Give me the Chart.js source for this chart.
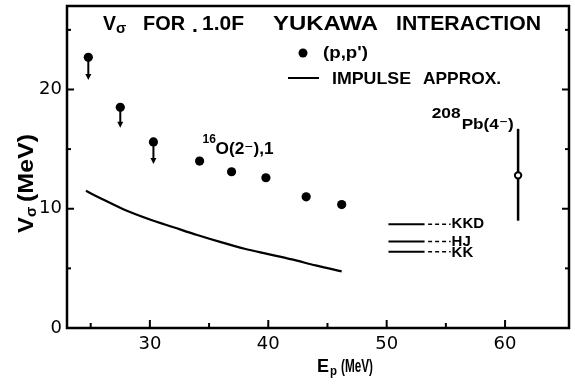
<!DOCTYPE html>
<html>
<head>
<meta charset="utf-8">
<script src="https://cdn.jsdelivr.net/npm/chart.js@4/dist/chart.umd.min.js"></script>
<style>
  html, body { margin: 0; padding: 0; background: #fff; }
  #wrap { width: 575px; height: 385px; }
</style>
</head>
<body>
<div id="wrap"><canvas id="c" width="575" height="385"></canvas></div>
<script>
// (p,p') values of V_sigma for 16O(2-), T=1, against proton energy
const ppEnergy = [24.8, 27.5, 30.3, 34.2, 36.9, 39.8, 43.2, 46.2];
const ppV      = [22.7, 18.5, 15.6, 14.0, 13.1, 12.6, 11.0, 10.35];
// the first three points are upper limits; arrows run down to these values
const limitIndex = [0, 1, 2];
const limitTo    = [20.8, 16.8, 13.75];

// impulse approximation curve
const impulseE = [24.6, 26, 28, 30, 32, 34, 36, 38, 40, 42, 44, 46.2];
const impulseV = [11.5, 10.8, 9.85, 9.1, 8.45, 7.8, 7.2, 6.65, 6.2, 5.75, 5.25, 4.75];

// 208Pb(4-) point with its range
const pbE = [61.1];
const pbV = [12.8];
const pbLow = [9.0];
const pbHigh = [16.7];

// values from the effective interactions KKD, HJ, KK
const keyNames  = ['KKD', 'HJ', 'KK'];
const keyV      = [8.7, 7.25, 6.4];
const keySolidE = [50.15, 53.2];
const keyDashE  = [53.5, 55.4];

// axis ticks
const xMajor = [30, 40, 50, 60];
const xMinor = [25, 35, 45, 55];
const yMajor = [0, 10, 20];
const yMinor = [5, 15, 25];

const FONT = '"Liberation Sans", "DejaVu Sans", sans-serif';
const TICKFONT = '"DejaVu Sans", sans-serif';

function text(ctx, s, x, y, size, opts) {
  opts = opts || {};
  ctx.save();
  ctx.font = (opts.bold ? 'bold ' : '') + size + 'px ' + (opts.family || FONT);
  ctx.textBaseline = 'middle';
  ctx.textAlign = 'left';
  ctx.fillStyle = '#000';
  const w = ctx.measureText(s).width;
  const sx = opts.width ? opts.width / w : 1;
  ctx.translate(x, y);
  ctx.scale(sx, 1);
  ctx.fillText(s, 0, 0);
  ctx.restore();
  return w * sx;
}

const keyDatasets = [];
keyNames.forEach((name, i) => {
  keyDatasets.push({
    label: name,
    data: keySolidE.map(e => ({ x: e, y: keyV[i] })),
    showLine: true, pointRadius: 0, borderColor: '#000', borderWidth: 2
  });
  keyDatasets.push({
    label: name + ' link',
    data: keyDashE.map(e => ({ x: e, y: keyV[i] })),
    showLine: true, pointRadius: 0, borderColor: '#000', borderWidth: 1.5,
    borderDash: [4, 3]
  });
});

const inkPlugin = {
  id: 'ink',
  beforeDatasetsDraw(chart) {
    const { ctx, scales: { x, y } } = chart;
    ctx.save();
    ctx.strokeStyle = '#000';
    ctx.fillStyle = '#000';
    // upper-limit arrows
    limitIndex.forEach((i, k) => {
      const px = x.getPixelForValue(ppEnergy[i]);
      const y0 = y.getPixelForValue(ppV[i]);
      const y1 = y.getPixelForValue(limitTo[k]);
      ctx.lineWidth = 2;
      ctx.beginPath(); ctx.moveTo(px, y0); ctx.lineTo(px, y1 - 5); ctx.stroke();
      ctx.beginPath();
      ctx.moveTo(px - 3, y1 - 6); ctx.lineTo(px + 3, y1 - 6); ctx.lineTo(px, y1);
      ctx.closePath(); ctx.fill();
    });
    // 208Pb range bar
    pbE.forEach((e, i) => {
      const px = x.getPixelForValue(e);
      ctx.lineWidth = 2.5;
      ctx.beginPath();
      ctx.moveTo(px, y.getPixelForValue(pbHigh[i]));
      ctx.lineTo(px, y.getPixelForValue(pbLow[i]));
      ctx.stroke();
    });
    ctx.restore();
  },
  afterDatasetsDraw(chart) {
    const { ctx, chartArea: a, scales: { x, y } } = chart;
    ctx.save();
    ctx.strokeStyle = '#000';
    ctx.fillStyle = '#000';
    // frame
    ctx.lineWidth = 2.5;
    ctx.strokeRect(a.left, a.top, a.right - a.left, a.bottom - a.top);
    // inward tick marks
    ctx.lineWidth = 2;
    const tickX = (v, len) => {
      const px = x.getPixelForValue(v);
      ctx.beginPath(); ctx.moveTo(px, a.bottom); ctx.lineTo(px, a.bottom - len); ctx.stroke();
    };
    const tickY = (v, len) => {
      const py = y.getPixelForValue(v);
      ctx.beginPath(); ctx.moveTo(a.left, py); ctx.lineTo(a.left + len, py); ctx.stroke();
      ctx.beginPath(); ctx.moveTo(a.right, py); ctx.lineTo(a.right - len, py); ctx.stroke();
    };
    xMajor.forEach(v => tickX(v, 8));
    xMinor.forEach(v => tickX(v, 5));
    yMajor.forEach(v => tickY(v, 7));
    yMinor.forEach(v => tickY(v, 4));

    // title
    const ty = a.top + 18;
    text(ctx, 'V', a.left + 36, ty, 21, { bold: true, width: 13 });
    text(ctx, 'σ', a.left + 49, ty + 5, 15, { bold: true });
    text(ctx, 'FOR', a.left + 76, ty, 21, { bold: true, width: 42 });
    text(ctx, '.', a.left + 125, ty + 2, 21, { bold: true });
    text(ctx, '1.0F', a.left + 135, ty, 21, { bold: true, width: 42 });
    text(ctx, 'YUKAWA', a.left + 206, ty, 21, { bold: true, width: 105 });
    text(ctx, 'INTERACTION', a.left + 329, ty, 21, { bold: true, width: 145 });

    // legend
    ctx.beginPath(); ctx.arc(a.left + 236, a.top + 47, 4.5, 0, Math.PI * 2); ctx.fill();
    text(ctx, "(p,p')", a.left + 256, a.top + 47, 17, { bold: true, width: 45 });
    ctx.lineWidth = 2;
    ctx.beginPath(); ctx.moveTo(a.left + 221, a.top + 72); ctx.lineTo(a.left + 252, a.top + 72); ctx.stroke();
    text(ctx, 'IMPULSE', a.left + 265, a.top + 73, 17, { bold: true, width: 79 });
    text(ctx, 'APPROX.', a.left + 356, a.top + 73, 17, { bold: true, width: 78 });

    // 16O(2-),1 label
    const ox = x.getPixelForValue(34.45), oy = y.getPixelForValue(15.0);
    text(ctx, '16', ox, oy - 9, 12, { bold: true });
    text(ctx, 'O(2⁻),1', ox + 13, oy, 16, { bold: true, width: 58 });

    // 208Pb(4-) label
    const bx = x.getPixelForValue(53.8), by = y.getPixelForValue(17.05);
    text(ctx, '208', bx, by - 11, 14, { bold: true, width: 29 });
    text(ctx, 'Pb(4⁻)', bx + 30, by, 15, { bold: true, width: 52 });

    // key names
    keyNames.forEach((n, i) => {
      const kx = x.getPixelForValue(keyDashE[1]) + 1;
      text(ctx, n, kx, y.getPixelForValue(keyV[i]) + (i === 2 ? 1.5 : 0), 15, { bold: true });
    });

    // axis titles
    const xt = a.left + 250, yt = a.bottom + 39;
    text(ctx, 'E', xt, yt, 19, { bold: true, width: 12 });
    text(ctx, 'p', xt + 13, yt + 5, 12, { bold: true, width: 7 });
    text(ctx, '(MeV)', xt + 24, yt, 19, { bold: true, width: 32 });

    ctx.save();
    ctx.translate(27, a.top + 227);
    ctx.rotate(-Math.PI / 2);
    let w2 = text(ctx, 'V', 0, 0, 22, { bold: true, width: 16 });
    text(ctx, 'σ', w2, 5, 15, { bold: true });
    text(ctx, '(MeV)', w2 + 15, 0, 22, { bold: true, width: 68 });
    ctx.restore();

    ctx.restore();
  }
};

new Chart(document.getElementById('c'), {
  type: 'scatter',
  data: {
    datasets: [
      {
        label: "(p,p')",
        data: ppEnergy.map((e, i) => ({ x: e, y: ppV[i] })),
        pointRadius: 4.6, pointBackgroundColor: '#000', pointBorderColor: '#000',
        pointBorderWidth: 0, showLine: false
      },
      {
        label: '208Pb(4-)',
        data: pbE.map((e, i) => ({ x: e, y: pbV[i] })),
        pointRadius: 3.2, pointBackgroundColor: '#fff', pointBorderColor: '#000',
        pointBorderWidth: 2, showLine: false
      },
      {
        label: 'IMPULSE APPROX.',
        data: impulseE.map((e, i) => ({ x: e, y: impulseV[i] })),
        showLine: true, pointRadius: 0, borderColor: '#000', borderWidth: 2.2,
        tension: 0.4, cubicInterpolationMode: 'monotone'
      },
      ...keyDatasets
    ]
  },
  options: {
    responsive: false,
    animation: false,
    devicePixelRatio: 1,
    layout: { padding: { top: 6, right: 3, left: 0, bottom: 0 } },
    plugins: { legend: { display: false }, tooltip: { enabled: false }, title: { display: false } },
    scales: {
      x: {
        type: 'linear', min: 23, max: 65.4,
        grid: { display: false, drawTicks: false },
        border: { display: false },
        afterBuildTicks: s => { s.ticks = xMajor.map(v => ({ value: v })); },
        afterFit: s => { s.height = 57; s.paddingLeft = 0; s.paddingRight = 0; },
        ticks: { color: '#000', font: { family: TICKFONT, size: 18 }, padding: 6, maxRotation: 0, autoSkip: false }
      },
      y: {
        type: 'linear', min: 0, max: 27,
        grid: { display: false, drawTicks: false },
        border: { display: false },
        afterBuildTicks: s => { s.ticks = yMajor.map(v => ({ value: v })); },
        afterFit: s => { s.width = 67; s.paddingTop = 0; s.paddingBottom = 0; },
        ticks: { color: '#000', font: { family: TICKFONT, size: 18 }, padding: 5, autoSkip: false }
      }
    }
  },
  plugins: [inkPlugin]
});
</script>
</body>
</html>
